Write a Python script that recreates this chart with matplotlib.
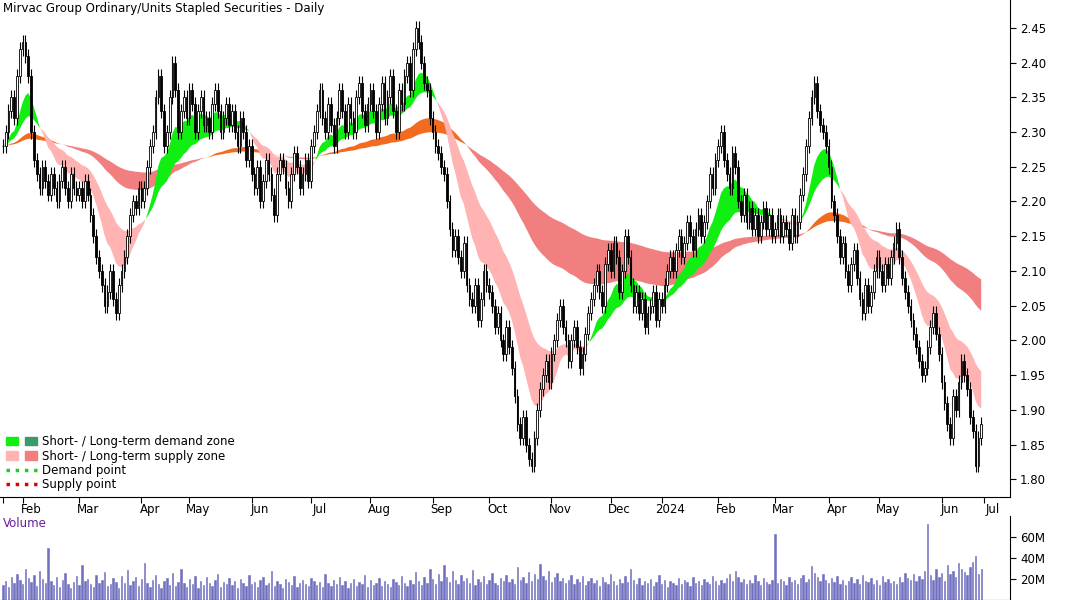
import numpy as np
import pandas as pd
import matplotlib.pyplot as plt
from matplotlib.patches import Patch
from matplotlib.lines import Line2D
from matplotlib.legend_handler import HandlerTuple

# daily closes, grouped by month
closes_by_month = [
    [2.28, 2.30, 2.33, 2.35, 2.32, 2.38, 2.42],
    [2.43, 2.41, 2.38, 2.30, 2.26, 2.24, 2.22, 2.25, 2.23, 2.21, 2.24, 2.22, 2.20, 2.23, 2.25, 2.22, 2.20, 2.24, 2.22, 2.21],
    [2.22, 2.20, 2.23, 2.21, 2.18, 2.15, 2.12, 2.10, 2.08, 2.05, 2.07, 2.10, 2.06, 2.04, 2.08, 2.10, 2.12, 2.15, 2.18, 2.20, 2.19, 2.22],
    [2.20, 2.22, 2.25, 2.28, 2.30, 2.35, 2.38, 2.33, 2.28, 2.30, 2.35, 2.40, 2.36, 2.30, 2.33, 2.35, 2.32],
    [2.36, 2.34, 2.30, 2.33, 2.35, 2.31, 2.32, 2.30, 2.34, 2.36, 2.33, 2.30, 2.32, 2.34, 2.31, 2.33, 2.30, 2.28, 2.32, 2.30, 2.26, 2.28],
    [2.24, 2.22, 2.25, 2.20, 2.23, 2.26, 2.24, 2.21, 2.18, 2.24, 2.26, 2.25, 2.22, 2.20, 2.24, 2.27, 2.25, 2.22, 2.24, 2.26, 2.23],
    [2.28, 2.30, 2.33, 2.36, 2.32, 2.30, 2.34, 2.31, 2.28, 2.32, 2.36, 2.33, 2.30, 2.34, 2.32, 2.30, 2.35, 2.37, 2.33, 2.31, 2.34],
    [2.36, 2.33, 2.30, 2.34, 2.37, 2.32, 2.35, 2.38, 2.33, 2.30, 2.36, 2.34, 2.38, 2.40, 2.36, 2.42, 2.45, 2.43, 2.40, 2.37, 2.36, 2.32],
    [2.30, 2.28, 2.27, 2.25, 2.24, 2.20, 2.16, 2.13, 2.15, 2.12, 2.10, 2.14, 2.08, 2.06, 2.05, 2.08, 2.03, 2.06, 2.10, 2.08],
    [2.07, 2.05, 2.02, 2.04, 2.00, 1.98, 2.02, 1.99, 1.96, 1.92, 1.88, 1.86, 1.89, 1.85, 1.83, 1.82, 1.86, 1.90, 1.93, 1.95, 1.97, 1.94],
    [1.98, 2.00, 2.03, 2.05, 2.02, 2.00, 1.97, 2.00, 2.02, 1.99, 1.96, 1.98, 2.01, 2.04, 2.06, 2.08, 2.10, 2.07, 2.05, 2.11, 2.13],
    [2.10, 2.14, 2.12, 2.07, 2.10, 2.15, 2.12, 2.08, 2.05, 2.07, 2.04, 2.06, 2.02, 2.04, 2.05, 2.07, 2.03, 2.06],
    [2.05, 2.08, 2.10, 2.12, 2.10, 2.13, 2.15, 2.12, 2.14, 2.17, 2.15, 2.13, 2.16, 2.18, 2.15, 2.17, 2.20, 2.24, 2.22, 2.26],
    [2.28, 2.30, 2.26, 2.24, 2.22, 2.27, 2.25, 2.20, 2.18, 2.21, 2.17, 2.19, 2.16, 2.18, 2.15, 2.17, 2.19, 2.16, 2.18, 2.15],
    [2.16, 2.18, 2.15, 2.17, 2.16, 2.14, 2.18, 2.15, 2.17, 2.21, 2.24, 2.28, 2.32, 2.35, 2.37, 2.33, 2.31, 2.30, 2.28],
    [2.25, 2.20, 2.18, 2.15, 2.12, 2.14, 2.10, 2.08, 2.11, 2.13, 2.09, 2.06, 2.04, 2.08, 2.05, 2.07, 2.10, 2.12],
    [2.10, 2.08, 2.11, 2.09, 2.12, 2.14, 2.16, 2.12, 2.09, 2.07, 2.05, 2.03, 2.01, 1.99, 1.97, 1.95, 1.96, 1.99, 2.02, 2.04, 2.01, 1.98],
    [1.94, 1.91, 1.88, 1.86, 1.92, 1.90, 1.94, 1.97, 1.95, 1.93, 1.89, 1.87, 1.82, 1.86, 1.88],
]
month_labels = ["", "Feb", "Mar", "Apr", "May", "Jun", "Jul", "Aug", "Sep", "Oct",
                "Nov", "Dec", "2024", "Feb", "Mar", "Apr", "May", "Jun"]

# daily volume in millions
volume = [
    14, 18, 12, 22, 16, 25, 19, 15, 30, 21, 17, 24, 13, 28, 20, 16, 50, 18, 14, 22,
    12, 19, 26, 15, 11, 17, 23, 14, 33, 18, 20, 15, 12, 24, 16, 19, 27, 13, 15, 21,
    17, 11, 23, 16, 29, 14, 18, 22, 13, 20, 35, 16, 12, 19, 24, 15, 11, 18, 21, 14,
    26, 13, 17, 30, 16, 12, 20, 15, 23, 11, 18, 14, 22, 16, 13, 19, 25, 12, 17, 15,
    21, 14, 18, 11, 20, 16, 13, 24, 15, 17, 12, 19, 22, 14, 16, 28, 13, 18, 15, 11,
    20, 17, 14, 23, 12, 16, 19, 15, 13, 21, 18, 14, 17, 12, 25, 16, 13, 19, 15, 22,
    14, 18, 11, 16, 20, 13, 17, 15, 24, 12, 19, 14, 16, 21, 13, 18, 15, 12, 20, 17,
    14, 23, 16, 13, 19, 15, 27, 18, 14, 22, 16, 30, 20, 15, 25, 18, 33, 22, 17, 28,
    19, 15, 24, 18, 21, 16, 29, 14, 20, 17, 23, 15, 19, 26, 16, 14, 21, 18, 24, 17,
    20, 15, 31, 19, 22, 16, 27, 18, 25, 20, 34, 23, 19, 28, 17, 22, 26, 18, 21, 16,
    19, 24, 15, 20, 17, 23, 14, 18, 21, 16, 19, 13, 22, 17, 15, 25, 18, 14, 20, 16,
    23, 17, 30, 19, 15, 21, 14, 18, 16, 20, 13, 17, 24, 15, 19, 12, 18, 16, 14, 21,
    15, 19, 17, 13, 22, 16, 18, 14, 20, 17, 15, 23, 18, 14, 19, 16, 21, 25, 18, 28,
    22, 17, 20, 15, 19, 16, 24, 18, 14, 21, 17, 15, 19, 63, 16, 20, 18, 14, 22, 17,
    19, 15, 21, 24, 17, 20, 32, 26, 22, 18, 25, 19, 16, 21, 17, 23, 15, 19, 14, 18,
    22, 16, 20, 15, 24, 18, 17, 21, 15, 19, 14, 23, 17, 20, 16, 18, 15, 22, 17, 26,
    21, 19, 25, 18, 23, 20, 28, 72, 24, 19, 30, 22, 26, 18, 33, 25, 28, 22, 35, 30,
    27, 24, 31, 36, 42, 25, 30, 18,
]

close = np.array([c for m in closes_by_month for c in m])
n = len(close)
vol = np.array(volume[:n]) * 1e6
idx = np.arange(n)
opens = np.concatenate([[close[0]], close[:-1]])
highs = np.maximum(opens, close) + 0.01
lows = np.minimum(opens, close) - 0.01
month_starts = np.cumsum([0] + [len(m) for m in closes_by_month[:-1]])

s = pd.Series(close)
st_fast = s.ewm(span=13, adjust=False).mean().values
st_slow = s.ewm(span=30, adjust=False).mean().values
lt_fast = s.ewm(span=80, adjust=False).mean().values
lt_slow = s.ewm(span=150, adjust=False).mean().values

fig = plt.figure(figsize=(10.66, 6), dpi=100)
ax = fig.add_axes([0.0, 0.172, 0.947, 0.828])
axv = fig.add_axes([0.0, 0.0, 0.947, 0.14])

# long-term band
up = lt_fast >= lt_slow
ax.fill_between(idx, lt_fast, lt_slow, where=up, color="#f26b21", interpolate=True, lw=0, zorder=1)
ax.fill_between(idx, lt_fast, lt_slow, where=~up, color="#f17f7f", interpolate=True, lw=0, zorder=1)
# short-term band
up = st_fast >= st_slow
ax.fill_between(idx, st_fast, st_slow, where=up, color="#11ee11", interpolate=True, lw=0, zorder=2)
ax.fill_between(idx, st_fast, st_slow, where=~up, color="#ffb3b3", interpolate=True, lw=0, zorder=2)

# candles
ax.vlines(idx, lows, highs, color="black", lw=0.8, zorder=3)
rising = close >= opens
ax.bar(idx[rising], (close - opens)[rising], bottom=opens[rising], width=0.6,
       color="white", edgecolor="black", lw=0.6, zorder=4)
ax.bar(idx[~rising], (opens - close)[~rising], bottom=close[~rising], width=0.6,
       color="black", edgecolor="black", lw=0.6, zorder=4)

xmax = n + 9
for a in (ax, axv):
    a.set_xlim(-1, xmax)
    a.set_xticks(list(month_starts) + [n])
    a.tick_params(axis="x", length=4, direction="out", labelbottom=False)
    a.yaxis.tick_right()
    a.tick_params(axis="y", labelsize=8.5, direction="out", length=4)
    for sp in ("top", "left"):
        a.spines[sp].set_visible(False)

ax.set_ylim(1.775, 2.49)
ax.set_yticks(np.arange(1.80, 2.46, 0.05))
ax.set_yticklabels([f"{v:.2f}" for v in np.arange(1.80, 2.46, 0.05)])
for ms, lab in zip(list(month_starts) + [n], month_labels + ["Jul"]):
    if lab:
        ax.text(ms + 3, -0.012, lab, transform=ax.get_xaxis_transform(),
                ha="center", va="top", fontsize=8.5)

ax.text(0.003, 0.995, "Mirvac Group Ordinary/Units Stapled Securities - Daily",
        transform=ax.transAxes, ha="left", va="top", fontsize=8.5)

leg_items = [
    ((Patch(color="#11ee11"), Patch(color="#3a9a6a")), "Short- / Long-term demand zone"),
    ((Patch(color="#ffb3b3"), Patch(color="#f17f7f")), "Short- / Long-term supply zone"),
    (Line2D([], [], color="#22cc22", ls=":", lw=2.5), "Demand point"),
    (Line2D([], [], color="#dd0000", ls=":", lw=2.5), "Supply point"),
]
ax.legend([h for h, _ in leg_items], [l for _, l in leg_items],
          handler_map={tuple: HandlerTuple(ndivide=None, pad=0.6)},
          loc="lower left", frameon=False, fontsize=8.5, handlelength=2.6,
          borderaxespad=0.1, labelspacing=0.1, handletextpad=0.5)

axv.bar(idx, vol, width=0.5, color="#7070c0", edgecolor="#7070c0", lw=0.4)
axv.set_ylim(0, 80e6)
axv.set_yticks([20e6, 40e6, 60e6])
axv.set_yticklabels(["20M", "40M", "60M"])
axv.text(0.003, 0.99, "Volume", transform=axv.transAxes, ha="left", va="top",
         fontsize=8.5, color="#6a1b9a")

fig.savefig("out.png", dpi=100)
